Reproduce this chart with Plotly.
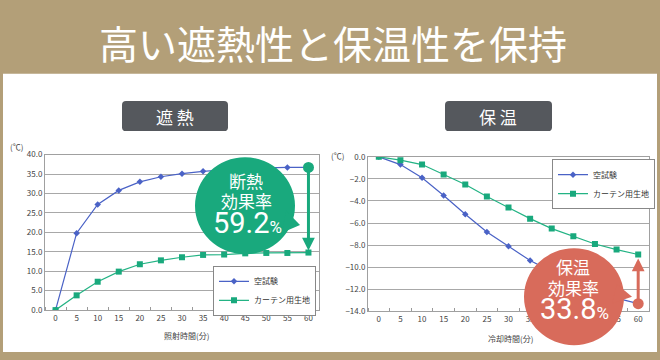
import plotly.graph_objects as go

# ---- data ----
minutes = [0, 5, 10, 15, 20, 25, 30, 35, 40, 45, 50, 55, 60]
heat_blank = [0.0, 19.8, 27.2, 30.8, 33.0, 34.3, 35.1, 35.7, 36.1, 36.4, 36.6, 36.7, 36.7]
heat_curtain = [0.0, 3.8, 7.3, 9.9, 11.8, 12.8, 13.6, 14.2, 14.3, 14.6, 14.7, 14.7, 14.8]
cool_blank = [0.0, -0.7, -1.9, -3.5, -5.2, -6.8, -8.1, -9.4, -10.4, -11.3, -12.1, -12.8, -13.3]
cool_curtain = [0.0, -0.3, -0.7, -1.6, -2.5, -3.6, -4.6, -5.6, -6.5, -7.2, -7.9, -8.4, -8.85]
series_names = ["空試験", "カーテン用生地"]
title_text = "高い遮熱性と保温性を保持"
left_label = "遮 熱"
right_label = "保 温"
left_xtitle = "照射時間(分)"
right_xtitle = "冷却時間(分)"
left_rate = "59.2"
right_rate = "33.8"

W, H = 660, 360
FONT = "Noto Sans CJK JP"
TAN = "#b39f78"
GRAY_LABEL = "#55585d"
GREEN_B = "#19a97d"
RED_B = "#d86b5b"
BLUE = "#4a62c6"
GREEN = "#23b384"


def px(x):
    return x / W


def py(y):
    return 1 - y / H


def path(points):
    s = ""
    for i, (x, y) in enumerate(points):
        s += ("M" if i == 0 else "L") + f"{px(x)},{py(y)} "
    return s + "Z"


def rrect(x0, y0, x1, y1, r):
    return (f"M{px(x0+r)},{py(y0)} L{px(x1-r)},{py(y0)} "
            f"Q{px(x1)},{py(y0)} {px(x1)},{py(y0+r)} L{px(x1)},{py(y1-r)} "
            f"Q{px(x1)},{py(y1)} {px(x1-r)},{py(y1)} L{px(x0+r)},{py(y1)} "
            f"Q{px(x0)},{py(y1)} {px(x0)},{py(y1-r)} L{px(x0)},{py(y0+r)} "
            f"Q{px(x0)},{py(y0)} {px(x0+r)},{py(y0)} Z")


def label(text, x, y, size, color="white", family=FONT):
    return dict(text=text, x=px(x), y=py(y), xref="paper", yref="paper", showarrow=False,
                xanchor="center", yanchor="middle", font=dict(family=family, size=size, color=color))


fig = go.Figure()

fig.add_trace(go.Scatter(x=minutes, y=heat_blank, name=series_names[0], mode="lines+markers",
                         line=dict(color=BLUE, width=1.2), marker=dict(symbol="diamond", size=5, color=BLUE),
                         xaxis="x", yaxis="y", legend="legend"))
fig.add_trace(go.Scatter(x=minutes, y=heat_curtain, name=series_names[1], mode="lines+markers",
                         line=dict(color=GREEN, width=1.2), marker=dict(symbol="square", size=6, color=GREEN_B),
                         xaxis="x", yaxis="y", legend="legend"))
fig.add_trace(go.Scatter(x=minutes, y=cool_blank, name=series_names[0], mode="lines+markers",
                         line=dict(color=BLUE, width=1.2), marker=dict(symbol="diamond", size=5, color=BLUE),
                         xaxis="x2", yaxis="y2", legend="legend2"))
fig.add_trace(go.Scatter(x=minutes, y=cool_curtain, name=series_names[1], mode="lines+markers",
                         line=dict(color=GREEN, width=1.2), marker=dict(symbol="square", size=6, color=GREEN_B),
                         xaxis="x2", yaxis="y2", legend="legend2"))
# arrow start dots
fig.add_trace(go.Scatter(x=[minutes[-1]], y=[heat_blank[-1]], mode="markers", showlegend=False,
                         marker=dict(size=11, color=GREEN_B), xaxis="x", yaxis="y"))
fig.add_trace(go.Scatter(x=[minutes[-1]], y=[cool_blank[-1]], mode="markers", showlegend=False,
                         marker=dict(size=11, color=RED_B), xaxis="x2", yaxis="y2"))

axis_common = dict(showline=True, linecolor="#a0a0a0", linewidth=1, mirror=True,
                   tickfont=dict(family=FONT, size=8, color="#444"), zeroline=False)
xcommon = dict(axis_common, range=[-2.5, 62.5], tickmode="linear", tick0=0, dtick=5, showgrid=False,
               ticks="", minor=dict(ticks="inside", tick0=2.5, dtick=5, ticklen=3, tickcolor="#999"))

shapes = [
    dict(type="rect", xref="paper", yref="paper", x0=px(3), x1=px(657), y0=py(357), y1=py(70),
         fillcolor="white", line=dict(width=0), layer="below"),
    dict(type="path", xref="paper", yref="paper", path=rrect(122, 98, 228, 129, 4),
         fillcolor=GRAY_LABEL, line=dict(width=0)),
    dict(type="path", xref="paper", yref="paper", path=rrect(445, 98, 552, 129, 4),
         fillcolor=GRAY_LABEL, line=dict(width=0)),
    # bubbles
    dict(type="circle", xref="paper", yref="paper", x0=px(195), x1=px(295), y0=py(256), y1=py(156),
         fillcolor=GREEN_B, line=dict(width=0), layer="above"),
    dict(type="path", xref="paper", yref="paper", path=path([(286, 211), (300, 226), (282, 234)]),
         fillcolor=GREEN_B, line=dict(width=0), layer="above"),
    dict(type="circle", xref="paper", yref="paper", x0=px(524), x1=px(624), y0=py(350), y1=py(250),
         fillcolor=RED_B, line=dict(width=0), layer="above"),
    dict(type="path", xref="paper", yref="paper", path=path([(617, 287), (632, 300), (612, 307)]),
         fillcolor=RED_B, line=dict(width=0), layer="above"),
]

annotations = [
    label(title_text, 333, 37, 39),
    label(left_label, 175, 113.5, 17),
    label(right_label, 498.5, 113.5, 17),
    label("(℃)", 16, 145, 8, "#444"),
    label("(℃)", 337, 154, 8, "#444"),
    label(left_xtitle, 186, 340, 8, "#444"),
    label(right_xtitle, 510, 343, 8, "#444"),
    label("断熱", 246, 180, 17),
    label("効果率", 246, 201, 17),
    label(f"{left_rate}<span style='font-size:17px'>%</span>", 247, 224, 29, family="Roboto"),
    label("保温", 573, 269, 17),
    label("効果率", 573, 290, 17),
    label(f"{right_rate}<span style='font-size:17px'>%</span>", 574, 313, 29, family="Roboto"),
    # arrows
    dict(x=minutes[-1], y=heat_curtain[-1], ax=minutes[-1], ay=heat_blank[-1], xref="x", yref="y",
         axref="x", ayref="y", text="", showarrow=True, arrowhead=2, arrowsize=0.85, arrowwidth=3,
         arrowcolor=GREEN_B, standoff=2),
    dict(x=minutes[-1], y=cool_curtain[-1], ax=minutes[-1], ay=cool_blank[-1], xref="x2", yref="y2",
         axref="x2", ayref="y2", text="", showarrow=True, arrowhead=2, arrowsize=0.85, arrowwidth=3,
         arrowcolor=RED_B, standoff=4),
]

legend_common = dict(bgcolor="white", bordercolor="#888", borderwidth=1,
                     font=dict(family=FONT, size=8, color="#333"), itemwidth=30,
                     xanchor="left", yanchor="top", tracegroupgap=0)

fig.update_layout(
    width=W, height=H, margin=dict(l=0, r=0, t=0, b=0),
    paper_bgcolor=TAN, plot_bgcolor="white",
    xaxis=dict(xcommon, domain=[px(45), px(319)], anchor="y"),
    yaxis=dict(axis_common, domain=[py(313.7), py(153.3)], range=[0, 40], dtick=5, tickformat=".1f",
               showgrid=True, gridcolor="#a8a8a8", gridwidth=1, anchor="x"),
    xaxis2=dict(xcommon, domain=[px(368), px(649)], anchor="y2"),
    yaxis2=dict(axis_common, domain=[py(315), py(155.6)], range=[-14, 0], dtick=2, tickformat=".1f",
                showgrid=True, gridcolor="#a8a8a8", gridwidth=1, anchor="x2"),
    legend=dict(legend_common, x=px(213), y=py(268)),
    legend2=dict(legend_common, x=px(552), y=py(158)),
    shapes=shapes,
    annotations=annotations,
    showlegend=True,
)

fig.write_html("out.html", config={"displayModeBar": False},
               post_script="document.body.style.margin='0';")
